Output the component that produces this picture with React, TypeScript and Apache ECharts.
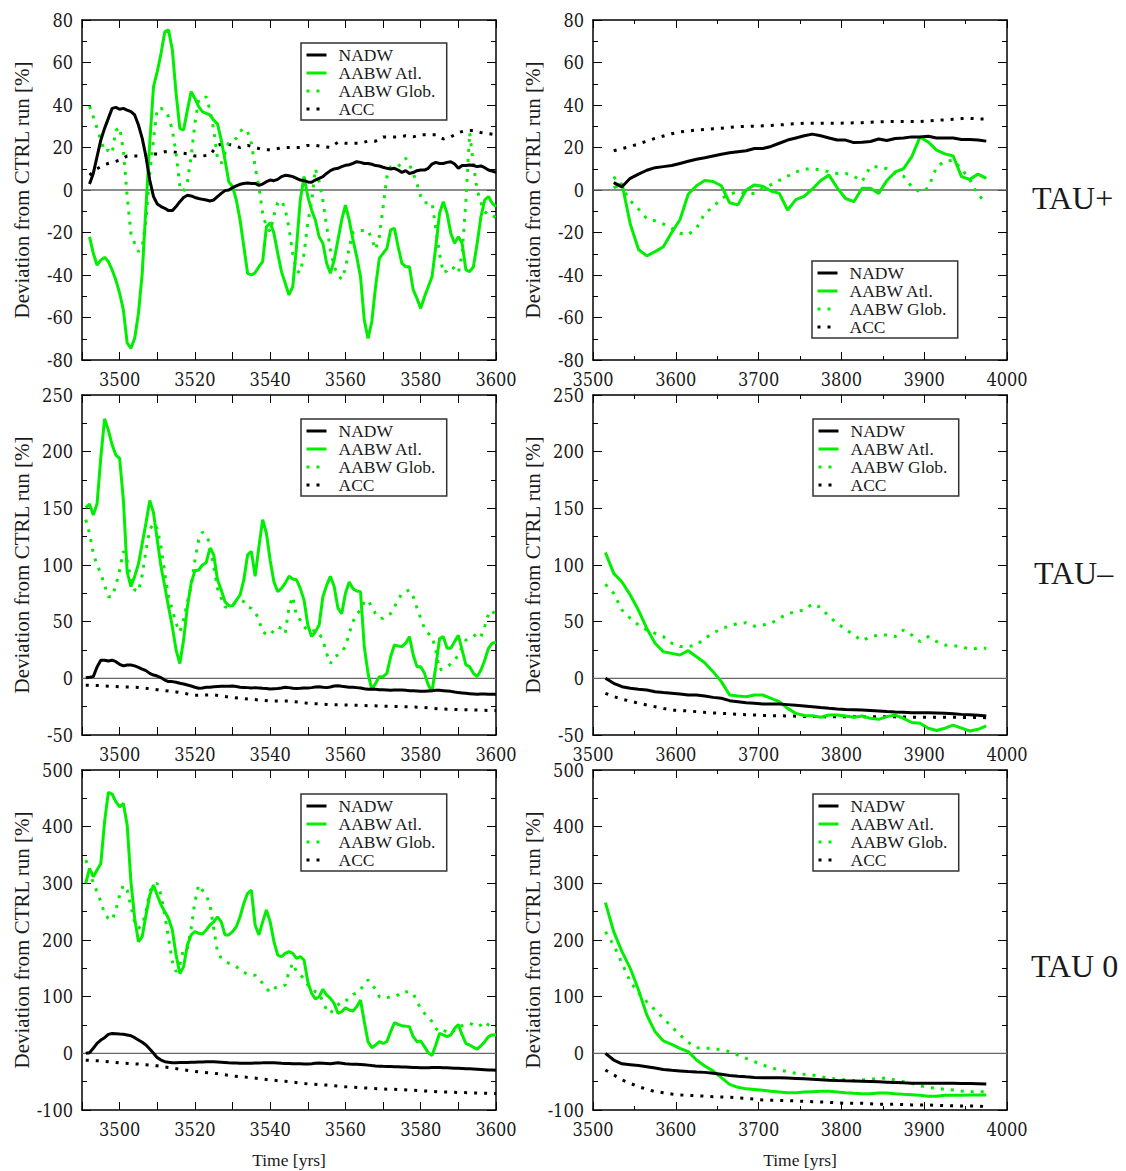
import React, { useEffect, useRef } from "react";
import * as echarts from "echarts";

const FONT = '"Liberation Serif", "Times New Roman", serif';
const TICK_FONT = '"DejaVu Serif Condensed", "Liberation Serif", serif';
const GREEN = "#00ee00";
const NAMES = ["NADW", "AABW Atl.", "AABW Glob.", "ACC"];

// ---------- TAU+ (row 1) ----------
const tauPlusLeftStart = 3492;
const tauPlusLeftNADW = [
  2.8, 7.8, 15.7, 23.5, 29, 33.7, 38.4, 38.9, 38, 38.4,
  37.6, 36.9, 35.3, 30.6, 24.3, 15.7, 4.7, -3.1, -6.6, -7.8,
  -8.6, -9.7, -9.7, -7.8, -5.5, -3.5, -2.5, -2.8, -3.5, -4,
  -4.4, -4.7, -5.2, -4.7, -3.1, -1.6, -0.3, 0, 1.1, 1.9,
  2.7, 3.1, 3.3, 3.1, 3.1, 2.2, 2.8, 3.9, 4.7, 4.4,
  5, 6.3, 6.9, 6.7, 6.3, 5.5, 4.7, 4.4, 3.8, 3.6,
  4.7, 5.5, 6.3, 7.8, 9.1, 9.9, 10.2, 11, 11.6, 11.9,
  12.5, 13.3, 13, 12.5, 12.5, 12.1, 11.5, 11.3, 10.7, 10.2,
  9.9, 10.2, 9.4, 8.3, 9.1, 7.8, 8.2, 9.1, 9.4, 9.4,
  10.2, 12.2, 13, 12.5, 12.5, 13, 13.3, 12.2, 10.2, 11.5,
  11.5, 11.8, 11.5, 11, 11.3, 10.5, 9.4, 8.9, 8.3,
];
const tauPlusLeftAtl = [
  -22, -29.8, -35.3, -33, -31.7, -33.7, -37.6, -42.4, -48.6, -56.5,
  -72, -74.5, -69.8, -58, -39.2, -7.8, 22, 48.6, 55.7, 64.3,
  74.5, 75.3, 66, 45.5, 29, 28.2, 37.6, 46.3, 43.1, 39.2,
  36.9, 36.1, 35.3, 32.9, 31.1, 23.5, 14.1, 3.9, 1.6, -4.7,
  -14.1, -26.7, -39.2, -40, -38.9, -36.1, -33.7, -17.3, -15.4, -20.4,
  -29.8, -38.4, -43.9, -49.4, -45.5, -26.7, -4.7, 6.3, -3.1, -9.4,
  -14.1, -22, -25.1, -34.5, -39.2, -33, -23.5, -14.1, -7.1, -14.1,
  -23.5, -31.4, -40.8, -61.2, -69.8, -62, -45.5, -32.2, -29.8, -27.5,
  -18.8, -18, -26.7, -34.5, -36.1, -36.1, -47, -51, -55.7, -50.2,
  -45.5, -40.8, -26.7, -11, -5.5, -11, -20.4, -25.1, -22, -25.1,
  -37.6, -38.4, -36.1, -25.1, -12.5, -4.7, -3.1, -6.3, -7.8,
];
const tauPlusLeftGlob = [
  39.5, 34.5, 29, 23.5, 18, 18.8, 17.3, 28, 29.5, 18.8,
  -3.1, -20.4, -25.1, -29, -26.7, -14.1, 7.8, 23.5, 38.4, 38.4,
  37.6, 34.5, 28.2, 17.3, 1.6, -0.8, 3.9, 15.7, 31.4, 42.4,
  42.4, 43.9, 37.6, 28.2, 14.9, 12.5, 17.3, 22.7, 23.5, 24.3,
  27.5, 29, 27.5, 22, 11, 1.6, -11, -17.3, -19.6, -12,
  -6, -5, -9, -18, -30, -38, -39, -30, -15, -6,
  10, 4, -5, -17, -28, -36, -40, -42, -37, -27,
  -20, -19, -19, -19, -19, -23, -28, -22, -8, 6,
  11, 11, 11, 13, 15, 12, 8, 3, -3, -6,
  -6, -6, -18, -30, -39, -38, -36, -37, -39, -30,
  -5, 27, 12, 0, -6, -10, -12, -12, -13,
];
const tauPlusLeftAccStep = 2;
const tauPlusLeftAcc = [
  7, 10, 12, 13, 14, 16, 16, 16, 17, 17,
  18, 18, 17.5, 17, 16, 16, 16.5, 21, 22, 21,
  20, 21, 20, 19, 19, 19.5, 20, 20, 20, 21,
  21, 20.5, 20, 22.5, 22, 22, 22, 23, 23, 25,
  25, 25, 25.5, 25, 26, 26, 26, 24, 25, 27,
  28, 28, 27, 26.5, 26,
];

const tauPlusRightStart = 3525;
const tauPlusRightNADW = [
  3.5, 1.5, 5.5, 7.5, 9.3, 10.5, 11, 11.5, 12.5, 13.5,
  14.5, 15.2, 16, 16.8, 17.5, 18, 18.5, 19.5, 19.5, 20.5,
  22, 23.5, 24.5, 25.5, 26.3, 25.5, 24.5, 23.5, 23.5, 22.3,
  22.5, 22.8, 24, 23.3, 24.2, 24.5, 25, 25, 25.3, 24.5,
  24.5, 24.5, 23.8, 23.8, 23.5, 23,
];
const tauPlusRightAtl = [
  1, 3, -16, -28, -31, -29, -26.7, -20, -14, -2,
  2, 4.5, 4, 2, -6, -7, 0, 2.4, 1.8, -0.5,
  -1.6, -9.4, -4.5, -3, 0.5, 4.5, 7, 1, -4, -5.5,
  0.8, 0.8, -1.6, 4.5, 8.5, 10, 15.7, 25, 22.5, 18.8,
  17, 16, 6.3, 5, 7.5, 5.5,
];
const tauPlusRightGlob = [
  6.3, 1, -5, -9, -13.5, -14.5, -16, -18, -20.4, -21,
  -18, -11, -8, -4, -2, -0.8, -1.6, -1.6, 0.8, 2.5,
  4.5, 6.5, 8.5, 9.8, 10, 9.5, 8.6, 7.8, 7.8, 6.5,
  4, 11, 11, 10, 8, 6.5, 1.5, -1, 1, 11,
  13.5, 14, 10, 5, -2.5, -5.5,
];
const tauPlusRightAcc = [
  18.5, 19.5, 20.5, 21.7, 23, 24.3, 25.4, 26.5, 27.3, 27.8,
  28.2, 28.5, 28.8, 29.1, 29.5, 29.8, 29.9, 30, 30.2, 30.4,
  30.6, 30.9, 31.2, 31.4, 31.4, 31.4, 31.4, 31.4, 31.5, 31.6,
  31.7, 31.9, 32.1, 32.2, 32.2, 32.2, 32.2, 32.2, 32.5, 32.8,
  33, 33.3, 33.6, 33.7, 33.5, 33.4,
];

// ---------- TAU- (row 2) ----------
const leftStart = 3491;
const tauMinusLeftNADW = [
  0.6, 1, 1.5, 10, 16, 16, 15.3, 16, 14.7, 12.4,
  11, 11.8, 11.8, 11, 9.7, 8.2, 6.8, 4.4, 2.9, 2,
  0.6, -1.5, -2.9, -2.9, -3.5, -4.4, -5, -5.9, -6.8, -7.9,
  -8.8, -8.5, -7.9, -7.9, -7.4, -7.2, -7, -7, -7, -6.8,
  -7.2, -7.8, -8, -8.2, -8.5, -8.2, -8.5, -8.8, -9, -9.4,
  -9.2, -9, -8.5, -7.9, -8.2, -8.8, -9, -8.8, -8.5, -8.5,
  -8.2, -7.6, -7.4, -7.9, -8.2, -7.6, -6.8, -6.5, -7, -7.4,
  -7.9, -7.9, -8.2, -8.5, -9.2, -9.7, -9.7, -9.7, -10, -10,
  -10.3, -10.6, -10.3, -10.3, -10.3, -10.6, -10.9, -10.9, -11.2, -11.5,
  -11.5, -11.2, -10.9, -10.6, -10.6, -10.9, -11.2, -11.5, -12.1, -12.6,
  -12.9, -13.2, -13.5, -13.8, -14.1, -13.8, -13.8, -14.1, -14.1, -14.1,
];
const tauMinusLeftAtl = [
  150.6, 153.8, 144, 154, 195, 229, 219, 206, 197, 194,
  157, 94, 81, 90, 101, 119, 137, 157, 146, 122,
  98.5, 81, 63, 45.6, 25, 13, 34, 63, 84, 95,
  95.6, 100, 102, 115, 109, 87, 78, 67.6, 64, 64,
  69, 73.5, 87, 109, 112, 90, 116, 140, 128, 104,
  85, 76.5, 79.4, 84, 90, 87.6, 87, 79.4, 69, 47,
  36.8, 41, 47, 72, 82, 90, 81, 62, 57, 75,
  85, 79, 77, 76.5, 28, 4.4, -10, -4.4, 1.5, 1.5,
  4.4, 19, 29.4, 28.5, 28, 31, 36.8, 20.6, 10.3, 10.3,
  4.4, -5.9, -11.8, 10.3, 35, 36.8, 26.5, 26.5, 32.4, 38,
  25, 11.8, 10.3, 4.4, 1.5, 7.4, 16, 26.5, 31, 32,
];
const tauMinusLeftGlob = [
  140, 128, 110, 100, 92.6, 82, 72, 72, 82, 95.6,
  112, 104, 87, 78, 76.5, 91, 113, 131, 137, 132,
  116, 92.6, 72, 60.3, 48.5, 41, 51.5, 67.6, 81, 104,
  122, 129, 126, 119, 98.5, 79.4, 70.6, 63, 63, 64.7,
  67.6, 69, 67.6, 63, 61.8, 58.8, 51.5, 41, 38.8, 38,
  42.6, 45.6, 44, 39.7, 63, 72, 54.4, 51.5, 45.6, 42.6,
  41, 42.6, 39.7, 33.8, 22, 13, 19, 20.6, 23.5, 28,
  39.7, 50, 57, 60, 67.6, 69, 63, 57, 53, 53,
  56, 57, 63, 69, 75, 76.5, 78, 72, 62, 53,
  44, 39.7, 36.8, 25, 7.4, 8.8, 9.7, 13, 16, 20.6,
  28, 33.8, 35.3, 36.8, 39.7, 36.8, 45.6, 57, 60, 54.4,
];
const accLeftYears = [
  3491, 3495, 3500, 3505, 3510, 3515, 3520, 3525, 3530, 3535, 3540, 3545,
  3550, 3555, 3560, 3565, 3570, 3575, 3580, 3585, 3590, 3595, 3600,
];
const tauMinusLeftAcc = [
  -6, -6.5, -7.5, -8, -10, -12, -15, -14.5, -17, -18.5, -20, -20,
  -22, -23, -23.5, -24, -24.5, -25, -25.5, -27, -27.5, -28, -28.5,
];

const rightStart = 3515;
const tauMinusRightNADW = [
  0, -4.4, -7.4, -8.8, -9.7, -10.3, -11.8, -12.6, -13.2, -13.8,
  -14.7, -14.7, -15.6, -16.8, -17.6, -19.7, -20.6, -21.5, -22, -22.6,
  -22.6, -22.6, -23.2, -23.8, -24.4, -25, -25.8, -26.5, -27, -27.4,
  -27.7, -28, -28.4, -28.8, -29.3, -29.7, -30, -30.3, -30.3, -30.3,
  -30.6, -30.9, -31.3, -31.8, -32.2, -32.6, -33.2,
];
const tauMinusRightAtl = [
  111, 92.6, 85, 73.5, 60, 44, 31, 23.5, 22, 20.6,
  24.4, 19, 13.8, 5.9, -2.9, -14.7, -15.6, -16.2, -14.7, -14.7,
  -17.6, -20.6, -26.5, -30.9, -32.8, -33, -34.4, -32.4, -32.4, -33.2,
  -34.4, -33.2, -35.3, -36.2, -33.8, -32.4, -35.3, -39, -39.7, -44,
  -46, -44, -41.2, -44, -46.5, -45, -42,
];
const tauMinusRightGlob = [
  83, 75, 60.3, 53, 47, 42.6, 39.7, 36.8, 31, 28,
  28, 29.4, 35.3, 39.7, 44, 46, 48.5, 49, 46, 47,
  48.5, 53, 57, 58.8, 60.3, 65.6, 62.6, 54.4, 48.5, 43.2,
  38.2, 33.2, 36.8, 38.2, 38.2, 36.8, 42.6, 38.2, 32.4, 36.8,
  32.4, 29.4, 28.8, 28, 25.6, 26.5, 26.5,
];
const tauMinusRightAcc = [
  -13.2, -16, -18.5, -20, -22, -23.5, -25, -26.5, -28, -28.4,
  -28.8, -29.4, -30, -30.5, -30.9, -31.3, -31.8, -32.1, -32.4, -32.7,
  -32.9, -33, -33.2, -33.4, -33.6, -33.7, -33.8, -33.8, -33.8, -33.8,
  -33.8, -33.8, -33.8, -33.8, -33.8, -34, -34.1, -34.3, -34.4, -34.4,
  -34.4, -34.4, -34.4, -34.5, -34.6, -34.6, -34.7,
];

// ---------- TAU 0 (row 3) ----------
const tauZeroLeftNADW = [
  0, 1, 9, 17.6, 23.5, 27.6, 33.5, 35, 34.7, 34,
  33.5, 32.4, 31, 27.6, 23.5, 19.4, 14.7, 7.6, 0, -7.6,
  -11.8, -14.7, -15.9, -16.5, -16.5, -16.3, -16.2, -16, -15.8, -15.6,
  -15.3, -15.2, -15, -15, -15, -15.3, -15.8, -16.3, -16.8, -17,
  -17.2, -17.4, -17.5, -17.5, -17.5, -17.2, -17, -16.8, -16.5, -16.5,
  -16.8, -17.2, -17.6, -17.8, -18, -18.2, -18.4, -18.6, -18.8, -19,
  -18.4, -17.6, -17, -17.5, -18, -18.5, -17.5, -16.5, -17.5, -18.5,
  -19, -19.2, -19.4, -19.6, -20, -20.8, -21.6, -22.2, -22.6, -23,
  -23.2, -23.4, -23.6, -23.8, -24, -24.3, -24.6, -24.9, -25.2, -25.5,
  -25.4, -25.3, -25.2, -25.1, -25, -25.3, -25.6, -25.9, -26.2, -26.5,
  -26.8, -27.1, -27.4, -27.7, -28, -28.4, -28.8, -29.2, -29.6, -30,
];
const tauZeroLeftAtl = [
  300, 326.5, 311.8, 323.5, 335, 409, 460.6, 457.6, 444, 435,
  441, 403, 303, 238, 197, 206, 244, 279, 297, 279,
  262, 250, 238, 217.6, 173.5, 141, 153, 191, 209, 214.7,
  211.8, 210.6, 217.6, 226.5, 232, 241, 232, 209, 209, 214.7,
  223.5, 241, 264.7, 282.4, 288, 226.5, 209, 232, 253, 232,
  197, 173.5, 170.6, 176.5, 179.4, 176.5, 167.6, 170.6, 164.7, 126.5,
  106, 96, 100, 113, 103, 97, 88, 70.6, 73.5, 80.6,
  76.5, 74.7, 82.4, 94, 56, 20.6, 10, 14.7, 20.6, 17.6,
  20.6, 38, 54, 51, 48.8, 48, 47, 29.4, 20.6, 21.8,
  11.8, 1.2, -4, 14.7, 35.3, 32.4, 29.4, 32.4, 44, 51,
  32.4, 17.6, 14.7, 10.6, 7.6, 13.5, 20.6, 29.4, 32.4, 32.4,
];
const tauZeroLeftGlob = [
  341, 323.5, 300, 285, 267.6, 247, 238, 235, 253, 279,
  297, 288, 259, 232, 220.6, 226.5, 250, 285, 297, 300,
  279, 244, 203, 162, 144, 156, 185, 185, 220.6, 267.6,
  297, 288, 279, 262, 220.6, 179, 167.6, 162, 159, 157,
  153, 147, 143, 139.4, 138, 138, 131, 123.5, 114.7, 108,
  114.7, 117.6, 117.6, 120.6, 144, 159, 144, 138, 132, 120.6,
  114.7, 108.8, 106, 91, 76.5, 70.6, 79.4, 85.3, 91, 91,
  100, 104, 106, 111.8, 123.5, 129.4, 123.5, 111.8, 100, 97,
  98, 100, 100, 103, 108.8, 108.8, 108, 106, 91, 79.4,
  70.6, 64.7, 56, 44, 38, 41, 38, 35.3, 41, 47,
  48.8, 50, 53, 50, 47, 50, 56, 50, 47, 44,
];
const tauZeroLeftAcc = [
  -12, -13.5, -17, -19, -22, -27, -32, -35, -40, -43, -47, -50,
  -54, -56, -59, -61, -63, -64, -66, -68, -69, -70, -71,
];

const tauZeroRightNADW = [
  0, -11.8, -18.5, -20, -21.5, -23.5, -26, -28.5, -30, -31,
  -32, -32.8, -33.6, -35, -37, -39, -40.3, -41.5, -42.5, -43,
  -43, -43.2, -43.7, -44.3, -45, -45.7, -46.5, -47.3, -48, -48.4,
  -48.7, -49.1, -49.7, -50.3, -50.9, -51.5, -52.1, -52.6, -52.9, -53,
  -53, -53, -53, -53.2, -53.4, -53.6, -54,
];
const tauZeroRightAtl = [
  266, 214.7, 179.4, 150, 111.8, 67.6, 38, 21.8, 15.9, 8.8,
  3, -11.8, -22.4, -31, -43, -54.7, -60, -62.7, -64, -65.3,
  -66.8, -68.2, -69.7, -69.7, -68.2, -67.6, -67, -67, -68.2, -69.7,
  -70.6, -71.2, -71.2, -70, -70, -71.5, -72.4, -73, -74, -75.6,
  -75.6, -74, -74, -74, -73.5, -73.5, -73.5,
];
const tauZeroRightGlob = [
  214.7, 191, 159, 126.5, 106, 91, 76.5, 61.8, 47, 32.4,
  19.4, 10, 8.8, 8.8, 5.9, 3, -3, -8.8, -14.7, -20.6,
  -25.3, -29.4, -32.4, -35.3, -37, -38.2, -41, -44, -45.3, -47,
  -48.2, -47, -45.9, -44, -44, -47, -50, -53, -57.6, -60,
  -61.8, -63.5, -64.7, -66.5, -67.6, -67.6, -67.6,
];
const tauZeroRightAcc = [
  -29.4, -38, -47, -53, -58.8, -63.5, -67.6, -69.4, -71.8, -73.5,
  -74.1, -74.7, -75.6, -76.5, -77, -77.6, -78.5, -79.4, -80.9, -82.4,
  -82.7, -83, -83.5, -84, -84.7, -85.3, -85.9, -86.5, -87.3, -88.2,
  -88.2, -88.2, -89, -90, -90, -90, -90.5, -91, -91, -91,
  -91.7, -92.4, -92.7, -93, -93, -93, -94,
];

// ---------- helpers ----------
function seq(start: number, n: number, step: number): number[] {
  const a: number[] = [];
  for (let i = 0; i < n; i++) a.push(start + i * step);
  return a;
}
function pairs(xs: number[], ys: number[]): number[][] {
  return ys.map((y, i) => [xs[i], y]);
}
function byStep(start: number, step: number, ys: number[]) {
  return pairs(seq(start, ys.length, step), ys);
}

const LEFT_X = { min: 3490, max: 3600, interval: 10, labelEvery: 20, minor: false };
const RIGHT_X = { min: 3500, max: 4000, interval: 100, labelEvery: 100, minor: true };
const Y1 = { min: -80, max: 80, interval: 20 };
const Y2 = { min: -50, max: 250, interval: 50 };
const Y3 = { min: -100, max: 500, interval: 100 };

const PANELS = [
  {
    left: 82, top: 20, x: LEFT_X, y: Y1, legend: [301, 43], bottom: false,
    nadw: byStep(tauPlusLeftStart, 1, tauPlusLeftNADW),
    atl: byStep(tauPlusLeftStart, 1, tauPlusLeftAtl),
    glob: byStep(tauPlusLeftStart, 1, tauPlusLeftGlob),
    acc: byStep(tauPlusLeftStart, tauPlusLeftAccStep, tauPlusLeftAcc),
  },
  {
    left: 593, top: 20, x: RIGHT_X, y: Y1, legend: [812, 261], bottom: false,
    nadw: byStep(tauPlusRightStart, 10, tauPlusRightNADW),
    atl: byStep(tauPlusRightStart, 10, tauPlusRightAtl),
    glob: byStep(tauPlusRightStart, 10, tauPlusRightGlob),
    acc: byStep(tauPlusRightStart, 10, tauPlusRightAcc),
  },
  {
    left: 82, top: 395, x: LEFT_X, y: Y2, legend: [301, 419], bottom: false,
    nadw: byStep(leftStart, 1, tauMinusLeftNADW),
    atl: byStep(leftStart, 1, tauMinusLeftAtl),
    glob: byStep(leftStart, 1, tauMinusLeftGlob),
    acc: pairs(accLeftYears, tauMinusLeftAcc),
  },
  {
    left: 593, top: 395, x: RIGHT_X, y: Y2, legend: [813, 419], bottom: false,
    nadw: byStep(rightStart, 10, tauMinusRightNADW),
    atl: byStep(rightStart, 10, tauMinusRightAtl),
    glob: byStep(rightStart, 10, tauMinusRightGlob),
    acc: byStep(rightStart, 10, tauMinusRightAcc),
  },
  {
    left: 82, top: 770, x: LEFT_X, y: Y3, legend: [301, 794], bottom: true,
    nadw: byStep(leftStart, 1, tauZeroLeftNADW),
    atl: byStep(leftStart, 1, tauZeroLeftAtl),
    glob: byStep(leftStart, 1, tauZeroLeftGlob),
    acc: pairs(accLeftYears, tauZeroLeftAcc),
  },
  {
    left: 593, top: 770, x: RIGHT_X, y: Y3, legend: [813, 794], bottom: true,
    nadw: byStep(rightStart, 10, tauZeroRightNADW),
    atl: byStep(rightStart, 10, tauZeroRightAtl),
    glob: byStep(rightStart, 10, tauZeroRightGlob),
    acc: byStep(rightStart, 10, tauZeroRightAcc),
  },
];

const TAU_LABELS = [
  { text: "TAU+", x: 1032, y: 198 },
  { text: "TAU\u2013", x: 1034, y: 573 },
  { text: "TAU 0", x: 1031, y: 966 },
];

function buildOption() {
  const grid: any[] = [];
  const xAxis: any[] = [];
  const yAxis: any[] = [];
  const series: any[] = [];
  const legend: any[] = [];
  const axisLine = { show: true, onZero: false, lineStyle: { color: "#000", width: 1.5 } };
  const labelStyle = { fontFamily: TICK_FONT, fontSize: 18, color: "#1a1a1a", lineHeight: 14 };

  PANELS.forEach((p, i) => {
    grid.push({ left: p.left, top: p.top, width: 414, height: 340, containLabel: false });
    const xBase = {
      type: "value", gridIndex: i, min: p.x.min, max: p.x.max, interval: p.x.interval,
      splitLine: { show: false }, axisLine,
      axisTick: { show: true, inside: true, length: 8, lineStyle: { color: "#000", width: 1 } },
      minorTick: { show: p.x.minor, splitNumber: 2, length: 4, lineStyle: { color: "#000", width: 1 } },
      minorSplitLine: { show: false },
    };
    const every = p.x.labelEvery;
    xAxis.push({
      ...xBase, position: "bottom",
      axisLabel: {
        ...labelStyle, margin: 12, showMinLabel: true, showMaxLabel: true,
        formatter: (v: number) => (v % every === 0 ? String(v) : ""),
      },
      name: p.bottom ? "Time [yrs]" : "",
      nameLocation: "middle", nameGap: 41,
      nameTextStyle: { fontFamily: FONT, fontSize: 17.5, color: "#1a1a1a" },
    });
    xAxis.push({ ...xBase, position: "top", axisLabel: { show: false } });
    const yBase = {
      type: "value", gridIndex: i, min: p.y.min, max: p.y.max, interval: p.y.interval,
      splitLine: { show: false }, axisLine,
      axisTick: { show: true, inside: true, length: 9, lineStyle: { color: "#000", width: 1 } },
      minorTick: { show: true, splitNumber: 2, length: 5, lineStyle: { color: "#000", width: 1 } },
      minorSplitLine: { show: false },
    };
    yAxis.push({
      ...yBase, position: "left",
      axisLabel: { ...labelStyle, margin: 9, showMinLabel: true, showMaxLabel: true },
      name: "Deviation from CTRL run [%]", nameLocation: "middle", nameGap: 50,
      nameTextStyle: { fontFamily: FONT, fontSize: 21, color: "#1a1a1a" },
    });
    yAxis.push({ ...yBase, position: "right", axisLabel: { show: false } });

    const base = {
      type: "line", xAxisIndex: 2 * i, yAxisIndex: 2 * i, showSymbol: false, symbol: "none",
      silent: true, clip: true, animation: false,
    };
    series.push({
      ...base, name: "zero", data: [[p.x.min, 0], [p.x.max, 0]],
      lineStyle: { color: "#666", width: 1.3 }, itemStyle: { color: "#666" }, z: 1,
    });
    series.push({
      ...base, name: "ACC", data: p.acc,
      lineStyle: { color: "#000", width: 3, type: [3, 7] }, itemStyle: { color: "#000" }, z: 2,
    });
    series.push({
      ...base, name: "AABW Glob.", data: p.glob,
      lineStyle: { color: GREEN, width: 3, type: [3, 7] }, itemStyle: { color: GREEN }, z: 3,
    });
    series.push({
      ...base, name: "AABW Atl.", data: p.atl,
      lineStyle: { color: GREEN, width: 3 }, itemStyle: { color: GREEN }, z: 4,
    });
    series.push({
      ...base, name: "NADW", data: p.nadw,
      lineStyle: { color: "#000", width: 3 }, itemStyle: { color: "#000" }, z: 5,
    });

    legend.push({
      data: NAMES, orient: "vertical", left: p.legend[0], top: p.legend[1],
      itemWidth: 20, itemHeight: 10, itemGap: 0,
      padding: [3, 11, 2, 4],
      borderColor: "#333", borderWidth: 1.5, backgroundColor: "#fff",
      selectedMode: false,
      itemStyle: { color: "transparent", borderWidth: 0, opacity: 0 },
      lineStyle: { width: 3 },
      textStyle: { fontFamily: FONT, fontSize: 17.5, color: "#1a1a1a", lineHeight: 18, padding: [0, 0, 0, 7] },
    });
  });

  const graphic = TAU_LABELS.map((t) => ({
    type: "text", left: t.x, top: t.y - 16,
    style: { text: t.text, fontFamily: FONT, fontSize: 32, fill: "#1a1a1a" },
  }));

  return {
    animation: false,
    backgroundColor: "#fff",
    grid, xAxis, yAxis, series, legend, graphic,
  };
}

export default function App() {
  const ref = useRef<HTMLDivElement>(null);
  useEffect(() => {
    if (!ref.current) return;
    const chart = echarts.init(ref.current, undefined, { renderer: "svg" });
    chart.setOption(buildOption() as any);
    return () => chart.dispose();
  }, []);
  return (
    <div
      ref={ref}
      style={{ position: "absolute", left: 0, top: 0, width: 1126, height: 1171, background: "#fff" }}
    />
  );
}
